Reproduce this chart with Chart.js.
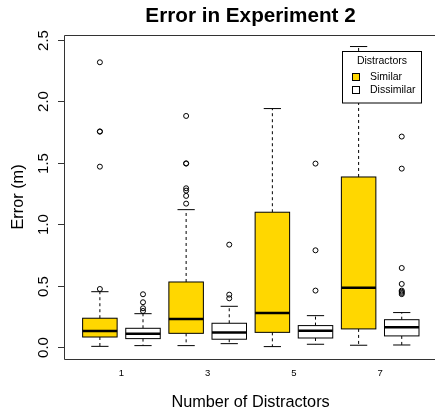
<!DOCTYPE html>
<html>
<head>
<meta charset="utf-8">
<script src="https://cdn.jsdelivr.net/npm/chart.js@4"></script>
<style>
  body { margin: 0; background: #fff; }
  canvas { display: block; }
</style>
</head>
<body>
<canvas id="chart" width="435" height="413"></canvas>
<script>
// number of distractors (x categories)
const distractors = [1, 3, 5, 7];
const seriesNames = ['Similar', 'Dissimilar'];

// box statistics (metres)
const similarLow = [0.005, 0.011, 0.003, 0.014];
const similarQ1 = [0.081, 0.111, 0.119, 0.147];
const similarMedian = [0.130, 0.228, 0.277, 0.483];
const similarQ3 = [0.234, 0.529, 1.097, 1.384];
const similarHigh = [0.450, 1.118, 1.941, 2.446];
const similarOutliers = [
  [0.472, 1.468, 1.753, 1.755, 2.318],
  [1.167, 1.230, 1.273, 1.292, 1.493, 1.495, 1.881],
  [],
  []
];

const dissimilarLow = [0.011, 0.027, 0.022, 0.016];
const dissimilarQ1 = [0.068, 0.063, 0.073, 0.090];
const dissimilarMedian = [0.108, 0.117, 0.133, 0.160];
const dissimilarQ3 = [0.152, 0.193, 0.174, 0.222];
const dissimilarHigh = [0.271, 0.331, 0.255, 0.280];
const dissimilarOutliers = [
  [0.293, 0.315, 0.364, 0.429],
  [0.396, 0.426, 0.833],
  [0.459, 0.787, 1.493],
  [0.430, 0.440, 0.450, 0.459, 0.513, 0.643, 1.452, 1.713]
];

const yTicks = [0, 0.5, 1.0, 1.5, 2.0, 2.5];
const yTickLabels = ['0.0', '0.5', '1.0', '1.5', '2.0', '2.5'];

const GOLD = '#FFD700';
const FONT = '"Liberation Sans", Arial, Helvetica, sans-serif';
const BOX_W = 0.8;     // in x units
const STAPLE_W = 0.4;

// Similar sits half a unit left of the category, Dissimilar half a unit right
const groups = [
  { name: seriesNames[0], offset: -0.5, fill: GOLD, low: similarLow, q1: similarQ1, med: similarMedian, q3: similarQ3, high: similarHigh, out: similarOutliers },
  { name: seriesNames[1], offset: 0.5, fill: '#ffffff', low: dissimilarLow, q1: dissimilarQ1, med: dissimilarMedian, q3: dissimilarQ3, high: dissimilarHigh, out: dissimilarOutliers }
];

const outlierPoints = [];
groups.forEach(g => {
  distractors.forEach((d, i) => {
    g.out[i].forEach(v => outlierPoints.push({ x: d + g.offset, y: v }));
  });
});

const boxPlot = {
  id: 'boxPlot',
  beforeDatasetsDraw(chart) {
    const { ctx, scales: { x, y } } = chart;
    const unit = x.getPixelForValue(1) - x.getPixelForValue(0);
    ctx.save();
    groups.forEach(g => {
      distractors.forEach((d, i) => {
        const cx = x.getPixelForValue(d + g.offset);
        const bw = BOX_W * unit / 2;
        const sw = STAPLE_W * unit / 2;
        const pLow = y.getPixelForValue(g.low[i]);
        const pQ1 = y.getPixelForValue(g.q1[i]);
        const pMed = y.getPixelForValue(g.med[i]);
        const pQ3 = y.getPixelForValue(g.q3[i]);
        const pHigh = y.getPixelForValue(g.high[i]);

        // whiskers
        ctx.strokeStyle = '#000';
        ctx.lineWidth = 1;
        ctx.setLineDash([3, 3]);
        ctx.beginPath();
        ctx.moveTo(cx, pQ1); ctx.lineTo(cx, pLow);
        ctx.moveTo(cx, pQ3); ctx.lineTo(cx, pHigh);
        ctx.stroke();
        ctx.setLineDash([]);
        ctx.beginPath();
        ctx.moveTo(cx - sw, pLow); ctx.lineTo(cx + sw, pLow);
        ctx.moveTo(cx - sw, pHigh); ctx.lineTo(cx + sw, pHigh);
        ctx.stroke();

        // box
        ctx.fillStyle = g.fill;
        ctx.fillRect(cx - bw, pQ3, 2 * bw, pQ1 - pQ3);
        ctx.strokeRect(cx - bw, pQ3, 2 * bw, pQ1 - pQ3);

        // median
        ctx.lineWidth = 2.5;
        ctx.beginPath();
        ctx.moveTo(cx - bw, pMed); ctx.lineTo(cx + bw, pMed);
        ctx.stroke();
      });
    });
    ctx.restore();
  },
  afterDraw(chart) {
    const { ctx, chartArea: a, scales: { x, y } } = chart;
    ctx.save();
    // frame
    ctx.strokeStyle = '#333';
    ctx.lineWidth = 1;
    ctx.beginPath();
    ctx.moveTo(a.right + 5, a.top + 0.5);
    ctx.lineTo(a.left + 0.5, a.top + 0.5);
    ctx.lineTo(a.left + 0.5, a.bottom + 0.5);
    ctx.lineTo(a.right + 5, a.bottom + 0.5);
    ctx.stroke();

    // y ticks and labels
    ctx.fillStyle = '#000';
    ctx.font = '15px ' + FONT;
    ctx.textAlign = 'center';
    ctx.textBaseline = 'middle';
    yTicks.forEach((t, i) => {
      const py = Math.round(y.getPixelForValue(t)) + 0.5;
      ctx.beginPath();
      ctx.moveTo(a.left - 6, py); ctx.lineTo(a.left, py);
      ctx.stroke();
      ctx.save();
      ctx.translate(44, py);
      ctx.rotate(-Math.PI / 2);
      ctx.fillText(yTickLabels[i], 0, 0);
      ctx.restore();
    });

    // x labels
    ctx.font = '9.5px ' + FONT;
    distractors.forEach(d => {
      ctx.fillText(String(d), x.getPixelForValue(d), 373);
    });

    // axis titles
    const cx = (a.left + x.getPixelForValue(8.32)) / 2;
    ctx.font = '16.3px ' + FONT;
    ctx.fillText('Number of Distractors', cx, 403);
    ctx.save();
    ctx.translate(19, (a.top + a.bottom) / 2);
    ctx.rotate(-Math.PI / 2);
    ctx.fillText('Error (m)', 0, 0);
    ctx.restore();

    // title
    ctx.font = 'bold 20.7px ' + FONT;
    ctx.fillText('Error in Experiment 2', cx, 16);

    // legend
    const lx = 342.5, ly = 51.5, lw = 79, lh = 51.5;
    ctx.fillStyle = '#fff';
    ctx.fillRect(lx, ly, lw, lh);
    ctx.strokeStyle = '#000';
    ctx.strokeRect(lx, ly, lw, lh);
    ctx.fillStyle = '#000';
    ctx.font = '10.5px ' + FONT;
    ctx.fillText('Distractors', lx + lw / 2, 61);
    ctx.textAlign = 'left';
    groups.forEach((g, i) => {
      const ry = 77 + i * 13;
      ctx.fillStyle = g.fill;
      ctx.fillRect(352.5, ry - 3.5, 7, 7);
      ctx.strokeRect(352.5, ry - 3.5, 7, 7);
      ctx.fillStyle = '#000';
      ctx.fillText(g.name, 370, ry);
    });
    ctx.restore();
  }
};

new Chart(document.getElementById('chart'), {
  type: 'scatter',
  data: {
    datasets: [{
      label: 'outliers',
      data: outlierPoints,
      pointStyle: 'circle',
      pointRadius: 2.5,
      pointBorderWidth: 1,
      pointBorderColor: '#000',
      pointBackgroundColor: 'rgba(0,0,0,0)',
      pointHoverRadius: 2.5
    }]
  },
  options: {
    responsive: false,
    animation: false,
    events: [],
    layout: { padding: { left: 64, top: 35, right: 0, bottom: 54 } },
    plugins: { legend: { display: false }, title: { display: false }, tooltip: { enabled: false } },
    scales: {
      x: { type: 'linear', min: -0.332, max: 8.19, display: false },
      y: { type: 'linear', min: -0.098, max: 2.54, display: false }
    }
  },
  plugins: [boxPlot]
});
</script>
</body>
</html>
